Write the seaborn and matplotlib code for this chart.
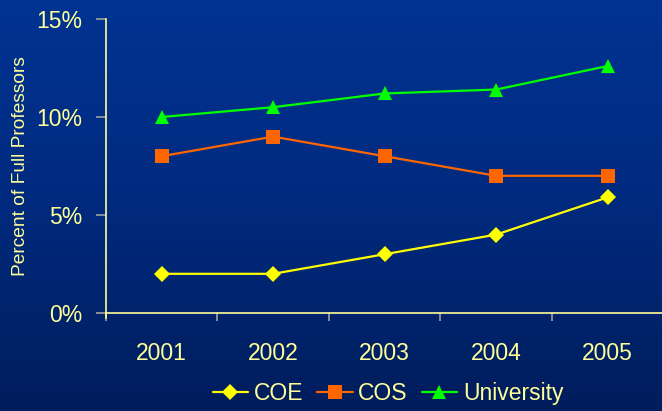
import numpy as np
import pandas as pd
import matplotlib
matplotlib.use("Agg")
import matplotlib.pyplot as plt
from matplotlib.colors import LinearSegmentedColormap
import seaborn as sns

years = ["2001", "2002", "2003", "2004", "2005"]
coe = [2.0, 2.0, 3.0, 4.0, 5.9]
cos = [8.0, 9.0, 8.0, 7.0, 7.0]
university = [10.0, 10.5, 11.2, 11.4, 12.6]
series_names = ["COE", "COS", "University"]

df = pd.DataFrame({
    "year": years * 3,
    "pct": coe + cos + university,
    "group": [n for n in series_names for _ in years],
})

sns.set_theme(style="white")
plt.rcParams["font.family"] = ["Liberation Sans", "DejaVu Sans"]

text_col = "#FFFF99"
palette = {"COE": "#FFFF00", "COS": "#FF6600", "University": "#00FF00"}
markers = {"COE": "D", "COS": "s", "University": "^"}

fig = plt.figure(figsize=(6.62, 4.11), dpi=100)

# vertical navy gradient behind everything
bg = fig.add_axes([0, 0, 1, 1], zorder=-10)
cmap = LinearSegmentedColormap.from_list("navy", ["#003393", "#002a7e", "#001d5c"])
bg.imshow(np.linspace(0, 1, 256).reshape(-1, 1), aspect="auto", cmap=cmap,
          extent=[0, 1, 0, 1])
bg.set_axis_off()

ax = fig.add_axes([0.160, 0.2384, 0.842, 0.7154])
ax.set_facecolor("none")

sns.lineplot(data=df, x="year", y="pct", hue="group", style="group",
             palette=palette, markers=markers, dashes=False, ax=ax,
             linewidth=1.6, markersize=10, markeredgewidth=0, sort=False)

for line in ax.get_lines():
    if line.get_marker() == "D":
        line.set_markersize(8.5)
    elif line.get_marker() == "^":
        line.set_markersize(10.5)

ax.set_xlim(-0.5, 4.5)
ax.set_ylim(0, 15)
ax.set_yticks([0, 5, 10, 15])
ax.set_yticklabels(["0%", "5%", "10%", "15%"])
ax.set_xticks(range(len(years)))
ax.set_xticklabels(years)
ax.set_xticks(np.arange(-0.5, 5.0, 1.0), minor=True)

for s in ["top", "right"]:
    ax.spines[s].set_visible(False)
for s in ["left", "bottom"]:
    ax.spines[s].set_color(text_col)
    ax.spines[s].set_linewidth(1.2)
ax.spines["left"].set_bounds(-0.25, 15)

ax.tick_params(axis="y", which="major", length=7, width=1.2, color="#A0A0A0",
               labelcolor=text_col, labelsize=16.5, pad=10, left=True)
ax.tick_params(axis="x", which="major", length=0, labelcolor=text_col,
               labelsize=16.5, pad=21, bottom=True)
ax.tick_params(axis="x", which="minor", length=6, width=1.2, color="#A0A0A0",
               bottom=True)

ax.set_xlabel("")
ax.set_ylabel("Percent of Full Professors", color=text_col, fontsize=13.8,
              labelpad=5.5)

leg = ax.legend(loc="center", bbox_to_anchor=(0.506, -0.275), ncol=3,
                frameon=False, fontsize=16.5, handlelength=1.55,
                handletextpad=0.25, columnspacing=0.6, borderaxespad=0)
for t in leg.get_texts():
    t.set_color(text_col)

fig.savefig("out.png", dpi=100)
